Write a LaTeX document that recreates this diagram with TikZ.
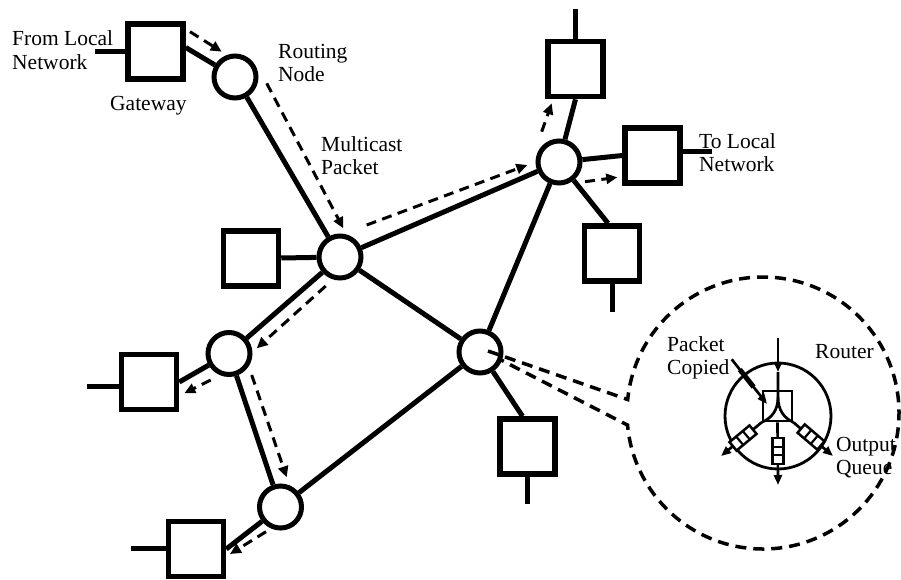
\documentclass[tikz,border=0pt]{standalone}
\usepackage{fontspec}
\setmainfont{Liberation Serif}
\usetikzlibrary{arrows.meta,calc}
\begin{document}
\begin{tikzpicture}[x=1pt,y=1pt,
  net/.style={line width=5pt},
  rnode/.style={circle, draw, line width=5pt, fill=white, minimum size=42pt, inner sep=0pt},
  hbox/.style={rectangle, draw, line width=5.5pt, fill=white, minimum width=55pt, minimum height=55pt, inner sep=0pt},
  flow/.style={line width=3pt, dash pattern=on 10pt off 6.5pt, -{Triangle[length=11pt,width=10pt]}},
  bubble/.style={line width=3.5pt, dash pattern=on 11pt off 7pt},
  lbl/.style={anchor=north west, inner sep=0pt, align=left, font=\fontsize{21.5}{23.5}\selectfont},
  thinline/.style={line width=2.7pt},
  tipped/.style={-{Triangle[length=10pt,width=8pt]}},
  queuepic/.pic={\draw[fill=white, line width=2.5pt] (-13,-5.5) rectangle (13,5.5);
                 \draw[line width=2.2pt] (-4.3,-5.5) -- (-4.3,5.5) (4.3,-5.5) -- (4.3,5.5);}
]
\useasboundingbox (0,0) rectangle (901,-579);

% network nodes
\node[hbox] (gw) at (155.5,-51.5) {};
\node[rnode] (R1) at (235,-77) {};
\node[rnode] (M) at (340,-257) {};
\node[rnode] (T) at (559,-162) {};
\node[rnode] (L) at (480,-352) {};
\node[rnode] (A) at (229,-353.5) {};
\node[rnode] (B) at (280.5,-507) {};
\node[hbox] (bxM) at (251,-258.5) {};
\node[hbox] (bxA) at (149,-382) {};
\node[hbox] (bxB) at (196,-549) {};
\node[hbox] (bxTop) at (575.5,-69) {};
\node[hbox] (bxR) at (652.5,-155.5) {};
\node[hbox] (bxTR) at (612,-253.5) {};
\node[hbox] (bxL) at (527.5,-446.5) {};

% lead lines to local networks
\coordinate (eGW) at (95,-51.5);
\coordinate (eA) at (87,-386);
\coordinate (eB) at (131,-548);
\coordinate (eTop) at (575.5,-9);
\coordinate (eR) at (712,-151);
\coordinate (eTR) at (612,-312);
\coordinate (eL) at (527.5,-504);
\draw[net] (eGW) -- (gw.west);
\draw[net] (eA) -- (eA -| bxA.west);
\draw[net] (eB) -- (eB -| bxB.west);
\draw[net] (eTop) -- (bxTop.north);
\draw[net] (eR) -- (eR -| bxR.east);
\draw[net] (eTR) -- (bxTR.south);
\draw[net] (eL) -- (bxL.south);

% links
\draw[net] ([yshift=4pt]gw.east) -- (R1);
\draw[net] (R1) -- (M);
\draw[net] (bxM) -- (M);
\draw[net] (M) -- (T);
\draw[net] (M) -- (L);
\draw[net] (M) -- (A);
\draw[net] (A) -- (bxA.east);
\draw[net] (A) -- (B);
\draw[net] (B) -- (bxB.east);
\draw[net] (B) -- (L);
\draw[net] (L) -- (T);
\draw[net] (L) -- ([xshift=-5pt]bxL.north);
\draw[net] (T) -- (bxTop.south);
\draw[net] (T) -- (bxR.west);
\draw[net] (T) -- ([xshift=-4pt]bxTR.north);

% multicast flow
\coordinate (f1s) at (190,-31.7);   \coordinate (f1e) at (221.7,-51.7);
\coordinate (f2s) at (266.7,-83.3); \coordinate (f2e) at (343.3,-228.3);
\coordinate (f3s) at (366.7,-225);  \coordinate (f3e) at (527.3,-165);
\coordinate (f4s) at (541.7,-131.7);\coordinate (f4e) at (551.7,-103.3);
\coordinate (f5s) at (585,-181.7);  \coordinate (f5e) at (617.3,-177.3);
\coordinate (f6s) at (325.7,-286);  \coordinate (f6e) at (256.7,-348.3);
\coordinate (f7s) at (210.7,-380);  \coordinate (f7e) at (184.3,-393.3);
\coordinate (f8s) at (251.7,-375);  \coordinate (f8e) at (286.7,-477.3);
\coordinate (f9s) at (266,-531.7);  \coordinate (f9e) at (230,-554);
\foreach \i in {1,...,9}{\draw[flow] (f\i s) -- (f\i e);}

% magnifying bubble
\coordinate (bc) at (763,-413);
\coordinate (ap1) at (488,-351);
\coordinate (ap2) at (501,-360);
\draw[bubble] (ap1) -- ($(bc)+(174.3:136)$) arc[start angle=174.3, end angle=-174.9, radius=136] -- (ap2);

% router detail
\node[circle, draw, line width=2.8pt, minimum size=106pt, inner sep=0pt] (rt) at (778,-416) {};
\node[rectangle, draw, line width=2.6pt, minimum width=29pt, minimum height=30pt, inner sep=0pt] (sw) at (777.5,-406) {};
\coordinate (in0) at (778,-338);
\coordinate (in1) at (778,-372);
\coordinate (fk) at (778,-397);
\draw[thinline, tipped] (in0) -- (in1);
\draw[thinline] (in1) -- (fk) .. controls (778,-410) and (772,-418) .. (sw.south west);
\draw[thinline] (fk) .. controls (778,-410) and (784,-418) .. (sw.south east);
\coordinate (oL) at (721,-456);
\coordinate (oR) at (833,-456);
\coordinate (oB) at (778,-485);
\draw[thinline, tipped] (sw.south west) -- (oL);
\draw[thinline, tipped] (sw.south east) -- (oR);
\draw[thinline, tipped] (sw.south) -- (oB);
\pic[rotate=39.8] at (743,-438) {queuepic};
\pic[rotate=-40.5] at (811,-437) {queuepic};
\pic[rotate=90] at (778,-451) {queuepic};
\coordinate (pc0) at (731.7,-359.3);
\coordinate (pc1) at (767,-404);
\draw[thinline, tipped] (pc0) -- (pc1);
\draw[line width=5pt] ($(pc0)!0.23!(pc1)$) -- ($(pc0)!0.62!(pc1)$);

% labels
\node[lbl] (tFrom) at (12,-30.5) {From Local\\Network};
\node[lbl] (tGw) at (110,-96) {Gateway};
\node[lbl] (tRn) at (278,-44) {Routing\\Node};
\node[lbl] (tMp) at (321,-136) {Multicast\\Packet};
\node[lbl] (tTo) at (699,-133) {To Local\\Network};
\node[lbl] (tPc) at (667,-336) {Packet\\Copied};
\node[lbl] (tRt) at (815,-344) {Router};
\node[lbl] (tOq) at (836,-437) {Output\\Queue};
\end{tikzpicture}
\end{document}
